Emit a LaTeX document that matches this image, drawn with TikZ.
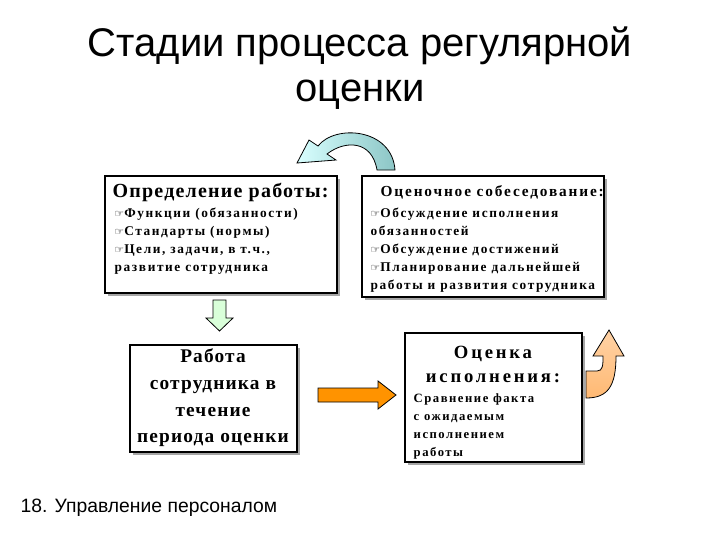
\documentclass[tikz,border=0pt]{standalone}
\usepackage{fontspec}
\setmainfont{Liberation Serif}
\newfontfamily\sansf{Liberation Sans}
\newfontfamily\symf{DejaVu Sans}
\newfontfamily\spcd[LetterSpace=12]{Liberation Serif}
\newfontfamily\spce[LetterSpace=6]{Liberation Serif}
\newfontfamily\spcf[LetterSpace=15]{Liberation Serif}
\begin{document}
\begin{tikzpicture}[x=0.75pt,y=-0.75pt,
  box/.style={draw=black,line width=0.8pt,fill=white,inner sep=0pt},
  ttl/.style={font=\spce\bfseries\fontsize{15}{17}\selectfont,anchor=north west},
  itm/.style={font=\spcd\bfseries\fontsize{10}{13.5}\selectfont,anchor=north west,align=left},
  arr/.style={draw=black,line width=0.6pt}]
\newcommand\hand{{\symf\fontsize{8}{8}\selectfont ☞}}
\useasboundingbox (0,0) rectangle (720,540);
% title
\node[font=\sansf\fontsize{30}{34}\selectfont,align=center] (title) at (360,68) {Стадии процесса регулярной\\оценки};
% boxes with shadow
\fill[black!35] (108,179) rectangle (340,296);
\draw[box] (105,176) rectangle (337,293);
\fill[black!35] (365,179) rectangle (607,300);
\draw[box] (362,176) rectangle (604,297);
\fill[black!35] (133,348) rectangle (300,455);
\draw[box] (130,345) rectangle (297,452);
\fill[black!35] (408,336) rectangle (585,465);
\draw[box] (405,333) rectangle (582,462);
\node[ttl] (t1) at (108,178) {Определение работы:};
\node[itm] (l1) at (110,203) {\hand Функции (обязанности)\\\hand Стандарты (нормы)\\\hand Цели, задачи, в т.ч.,\\развитие сотрудника};
\node[ttl,font=\spcd\bfseries\fontsize{11.5}{14}\selectfont] (t2) at (376,181) {Оценочное собеседование:};
\node[itm] (l2) at (366,203) {\hand Обсуждение исполнения\\обязанностей\\\hand Обсуждение достижений\\\hand Планирование дальнейшей\\работы и развития сотрудника};
\node[font=\spce\bfseries\fontsize{14.5}{20}\selectfont,align=center] (t3) at (213,398) {Работа\\сотрудника в\\течение\\периода оценки};
\node[font=\spcf\bfseries\fontsize{14}{18}\selectfont,align=center] (t4) at (493,364) {Оценка\\исполнения:};
\node[itm,font=\spcd\bfseries\fontsize{9.5}{13.5}\selectfont] (l4) at (409,389) {Сравнение факта\\с ожидаемым\\исполнением\\работы};
% curved blue arrow
\shade[left color=cyan!15,right color=teal!45,arr]
 (395,170) .. controls (392,128) and (335,124) .. (318,146)
 -- (309,140) -- (297,163) -- (336,160) -- (327,154)
 .. controls (345,140) and (372,140) .. (377,170) -- cycle;
% green down arrow
\draw[arr,fill=green!15] (213,300) -- (226,300) -- (226,318) -- (233,318) -- (219.5,331) -- (206,318) -- (213,318) -- cycle;
% orange right arrow
\draw[arr,fill=orange!85!yellow] (318,388) -- (378,388) -- (378,381) -- (396,395) -- (378,409) -- (378,402) -- (318,402) -- cycle;
% orange up arrow
\shade[top color=orange!35,bottom color=orange!55,arr]
 (586,371) -- (597,371) .. controls (603,371) and (603,365) .. (603,356)
 -- (593,356) -- (609,330) -- (624,356) -- (616,356)
 .. controls (616,386) and (608,398) .. (586,398) -- cycle;
\node[font=\sansf\fontsize{14.5}{17}\selectfont,anchor=west] (foot) at (16,508) {18. Управление персоналом};
\end{tikzpicture}
\end{document}
